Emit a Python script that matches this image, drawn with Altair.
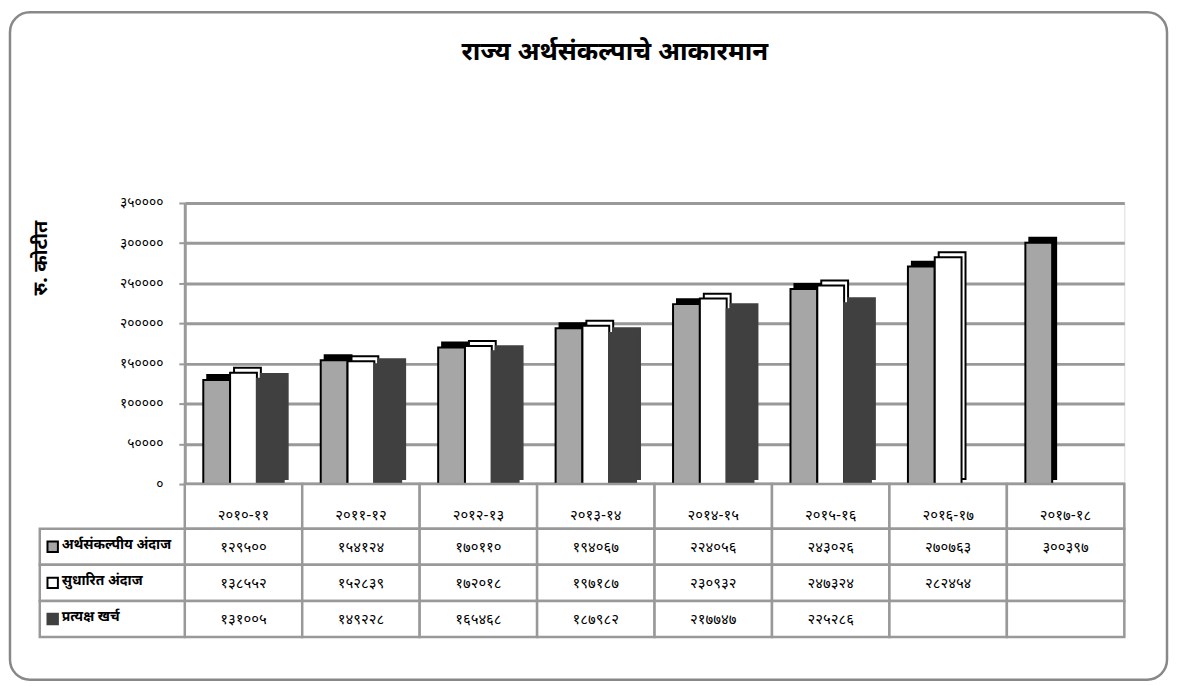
import altair as alt
import pandas as pd

# ---- data ----
years = ["2010-11", "2011-12", "2012-13", "2013-14", "2014-15", "2015-16", "2016-17", "2017-18"]
series = ["अर्थसंकल्पीय अंदाज", "सुधारित अंदाज", "प्रत्यक्ष खर्च"]
budget = [129500, 154124, 170110, 194067, 224056, 243026, 270763, 300397]
revised = [138552, 152839, 172018, 197187, 230932, 247324, 282454, None]
actual = [131005, 149228, 165468, 187982, 217747, 225286, None, None]
y_ticks = [0, 50000, 100000, 150000, 200000, 250000, 300000, 350000]
title_text = "राज्य अर्थसंकल्पाचे आकारमान"
y_title = "रु. कोटीत"

DEV = str.maketrans("0123456789", "०१२३४५६७८९")
FONT = "'Noto Sans Devanagari', 'Lohit Devanagari', 'Mukta', 'Noto Sans', sans-serif"

rows = []
for s, vals in zip(series, [budget, revised, actual]):
    for yr, v in zip(years, vals):
        if v is not None:
            rows.append({"year": yr, "series": s, "value": v, "vtxt": str(v).translate(DEV)})
df = pd.DataFrame(rows)
cells = pd.DataFrame([{"year": yr, "series": s} for s in series for yr in years])
hdr = pd.DataFrame({"year": years, "ytxt": [y.translate(DEV) for y in years]})
lbl = pd.DataFrame({"series": series})
frame = pd.DataFrame({"k": [0]})

label_expr = ""
for t in y_ticks:
    label_expr += f"datum.value == {t} ? '{str(t).translate(DEV)}' : "
label_expr += "''"

GRID = "#999999"
xscale = alt.Scale(domain=years, paddingInner=0, paddingOuter=0)
stroke_enc = alt.Stroke("series:N", scale=alt.Scale(domain=series, range=["#000000", "#000000", "#404040"]),
                        legend=None)

base = alt.Chart(df).encode(
    x=alt.X("year:N", sort=years, scale=xscale,
            axis=alt.Axis(labels=False, ticks=False, title=None, domainColor=GRID, domainWidth=4)),
    y=alt.Y("value:Q", scale=alt.Scale(domain=[0, 350000], nice=False),
            axis=alt.Axis(values=y_ticks, labelExpr=label_expr, title=y_title,
                          titleX=-145, titleY=55, titleAngle=270, titleAlign="center",
                          titleBaseline="middle", titleFontSize=20, titleFontWeight="bold",
                          labelFontSize=14, labelPadding=16, labelColor="black",
                          tickSize=6, tickColor=GRID, tickWidth=2,
                          domainColor=GRID, domainWidth=3,
                          gridColor=GRID, gridWidth=3)),
    stroke=stroke_enc,
)

shadow = base.mark_bar(yOffset=-5, y2Offset=-5, strokeWidth=2).encode(
    xOffset=alt.XOffset("series:N", sort=series,
                        scale=alt.Scale(domain=series, paddingInner=0, paddingOuter=0.69, align=0.607)),
    fill=alt.Fill("series:N", scale=alt.Scale(domain=series, range=["#000000", "#ffffff", "#404040"]),
                  legend=None)
)
front = base.mark_bar(strokeWidth=2).encode(
    xOffset=alt.XOffset("series:N", sort=series,
                        scale=alt.Scale(domain=series, paddingInner=0, paddingOuter=0.69)),
    color=alt.Color("series:N", scale=alt.Scale(domain=series, range=["#a6a6a6", "#ffffff", "#404040"]),
                    legend=None)
)
border = alt.Chart(frame).mark_rect(fillOpacity=0, stroke="#888888", strokeWidth=2.5, cornerRadius=20).encode(
    x=alt.value(-176), x2=alt.value(989), y=alt.value(-192), y2=alt.value(480)
)

bars = alt.layer(border, shadow, front).resolve_scale(xOffset="independent").properties(
    width=946, height=283,
    title=alt.Title(title_text, fontSize=26, fontWeight="bold", anchor="middle", frame="group",
                    dx=-40, offset=-54, color="black"),
)

header = alt.layer(
    alt.Chart(hdr).mark_rect(fill="white", stroke=GRID, strokeWidth=2.5).encode(
        x=alt.X("year:N", sort=years, scale=xscale, axis=None)),
    alt.Chart(hdr).mark_text(dy=9, fontSize=15).encode(
        x=alt.X("year:N", sort=years, scale=xscale, axis=None), text="ytxt:N"),
).properties(width=946, height=45)

yrow = alt.Y("series:N", sort=series, scale=alt.Scale(domain=series, paddingInner=0, paddingOuter=0), axis=None)
xyear = alt.X("year:N", sort=years, scale=xscale, axis=None)

table = alt.layer(
    alt.Chart(cells).mark_rect(fill="white", stroke=GRID, strokeWidth=2.5).encode(x=xyear, y=yrow),
    alt.Chart(lbl).mark_rect(fill="white", stroke=GRID, strokeWidth=2.5).encode(
        x=alt.value(-146), x2=alt.value(0), y=yrow),
    alt.Chart(df).mark_text(fontSize=15).encode(x=xyear, y=yrow, text="vtxt:N"),
    alt.Chart(lbl).mark_point(shape="square", filled=True, size=110, strokeWidth=2, opacity=1).encode(
        x=alt.value(-133), y=yrow,
        color=alt.Color("series:N", scale=alt.Scale(domain=series, range=["#a6a6a6", "#ffffff", "#404040"]),
                        legend=None),
        stroke=stroke_enc),
    alt.Chart(lbl).mark_text(align="left", fontSize=14, fontWeight="bold", dy=-2).encode(
        x=alt.value(-124), y=yrow, text="series:N"),
).properties(width=946, height=109)

chart = alt.vconcat(bars, header, table, spacing=0, bounds="flush").properties(
    padding=0, background="white"
).configure_view(strokeWidth=0).configure(font=FONT)

chart.save("out.html", embed_options={"renderer": "svg", "actions": False})
